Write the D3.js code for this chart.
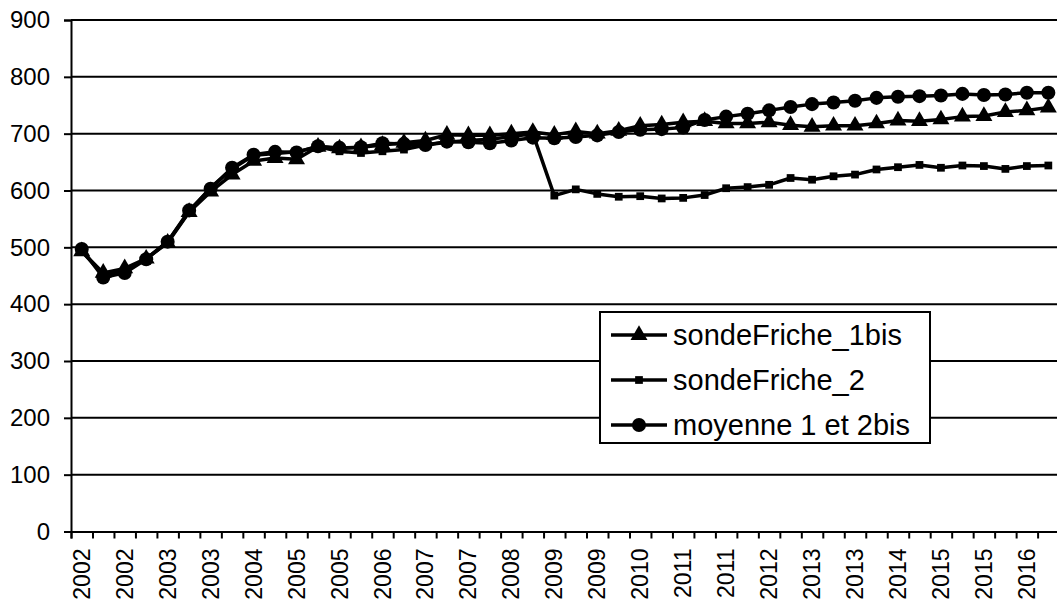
<!DOCTYPE html>
<html>
<head>
<meta charset="utf-8">
<script src="https://cdn.jsdelivr.net/npm/d3@7.9.0/dist/d3.min.js"></script>
<style>
  html, body { margin: 0; padding: 0; background: #fff; }
  svg text { font-family: Arial, "Liberation Sans", sans-serif; fill: #000; }
</style>
</head>
<body>
<svg id="chart" width="1057" height="607"></svg>
<script>
// one year label per sample (only every second one is drawn on the axis)
const dates = [
  '2002','2002','2002','2002','2003','2003','2003','2003','2004','2004',
  '2005','2005','2005','2006','2006','2006','2007','2007','2007','2008',
  '2008','2008','2009','2009','2009','2010','2010','2011','2011','2011',
  '2011','2012','2012','2013','2013','2013','2013','2014','2014','2015',
  '2015','2015','2015','2016','2016','2016'
];

const sondeFriche1bis = [
  493, 455, 463, 480, 508, 562, 598, 628, 652, 657,
  655, 677, 674, 676, 680, 684, 688, 698, 697, 697,
  700, 703, 698, 704, 700, 705, 714, 716, 720, 722,
  718, 718, 720, 715, 712, 714, 714, 718, 723, 722,
  725, 730, 731, 738, 741, 746
];

const sondeFriche2 = [
  493, 452, 458, 480, 510, 563, 605, 638, 662, 665,
  668, 677, 669, 666, 669, 672, 680, 685, 688, 690,
  695, 700, 591, 602, 594, 589, 590, 586, 587, 592,
  604, 606, 610, 622, 619, 625, 628, 637, 641, 645,
  640, 644, 643, 638, 643, 644
];

const moyenne = [
  497, 447, 455, 479, 510, 565, 603, 640, 663, 668,
  667, 678, 675, 676, 683, 682, 680, 686, 685, 683,
  688, 693, 692, 694, 697, 703, 707, 708, 711, 724,
  730, 735, 741, 747, 752, 755, 758, 763, 765, 766,
  767, 770, 768, 769, 772, 772
];

const yTicks = [0, 100, 200, 300, 400, 500, 600, 700, 800, 900];

const seriesNames = ['sondeFriche_1bis', 'sondeFriche_2', 'moyenne 1 et 2bis'];

const series = [
  { name: seriesNames[0], values: sondeFriche1bis, symbol: d3.symbolTriangle, size: 125 },
  { name: seriesNames[1], values: sondeFriche2, symbol: d3.symbolSquare, size: 60 },
  { name: seriesNames[2], values: moyenne, symbol: d3.symbolCircle, size: 155 }
];

const svg = d3.select('#chart');
const plotLeft = 71, plotTop = 20, plotBottom = 531.5;
const step = 21.48;

// category axis, ticks between categories, point in the middle
const x = d3.scaleLinear().domain([0, dates.length]).range([plotLeft, plotLeft + dates.length * step]);
const y = d3.scaleLinear().domain([0, 900]).range([plotBottom, plotTop]);

// horizontal grid lines
svg.append('g')
  .selectAll('line')
  .data(yTicks.filter(d => d > 0))
  .join('line')
  .attr('x1', plotLeft).attr('x2', x(dates.length))
  .attr('y1', d => y(d)).attr('y2', d => y(d))
  .attr('stroke', '#000').attr('stroke-width', 2);

// y axis
const yAxis = svg.append('g')
  .attr('transform', `translate(${plotLeft},0)`)
  .call(d3.axisLeft(y).tickValues(yTicks).tickSize(7).tickPadding(14));
yAxis.select('.domain').attr('stroke-width', 2);
yAxis.selectAll('.tick line').attr('stroke-width', 2);
yAxis.selectAll('text').style('font-size', '24px');

// x axis : tick marks
const xTickAxis = svg.append('g')
  .attr('transform', `translate(0,${plotBottom})`)
  .call(d3.axisBottom(x).tickValues(d3.range(dates.length + 1)).tickSize(7).tickFormat(''));
xTickAxis.select('.domain').attr('stroke-width', 2);
xTickAxis.selectAll('.tick line').attr('stroke-width', 2);

// x axis : labels, every second category
svg.append('g')
  .selectAll('text')
  .data(dates.map((d, i) => ({ label: d, i })).filter(d => d.i % 2 === 0))
  .join('text')
  .attr('transform', d => `translate(${x(d.i + 0.5)},${plotBottom + 17}) rotate(-90)`)
  .attr('text-anchor', 'end')
  .attr('dy', '0.35em')
  .style('font-size', '23px')
  .text(d => d.label);

// lines and markers
const line = d3.line()
  .x((d, i) => x(i + 0.5))
  .y(d => y(d));

series.forEach(s => {
  svg.append('path')
    .datum(s.values)
    .attr('d', line)
    .attr('fill', 'none')
    .attr('stroke', '#000')
    .attr('stroke-width', 3.5)
    .attr('stroke-linejoin', 'round');

  svg.append('g')
    .selectAll('path')
    .data(s.values)
    .join('path')
    .attr('transform', (d, i) => `translate(${x(i + 0.5)},${y(d)})`)
    .attr('d', d3.symbol().type(s.symbol).size(s.size))
    .attr('fill', '#000');
});

// legend
const legend = svg.append('g').attr('transform', 'translate(600,312)');
legend.append('rect')
  .attr('width', 330).attr('height', 131)
  .attr('fill', '#fff').attr('stroke', '#000').attr('stroke-width', 2);

series.forEach((s, i) => {
  const row = legend.append('g').attr('transform', `translate(0,${23 + i * 45})`);
  row.append('line')
    .attr('x1', 11).attr('x2', 67)
    .attr('stroke', '#000').attr('stroke-width', 3.5);
  row.append('path')
    .attr('transform', 'translate(39,0)')
    .attr('d', d3.symbol().type(s.symbol).size(s.size))
    .attr('fill', '#000');
  row.append('text')
    .attr('x', 73)
    .attr('dy', '0.35em')
    .style('font-size', '29px')
    .text(s.name);
});
</script>
</body>
</html>
